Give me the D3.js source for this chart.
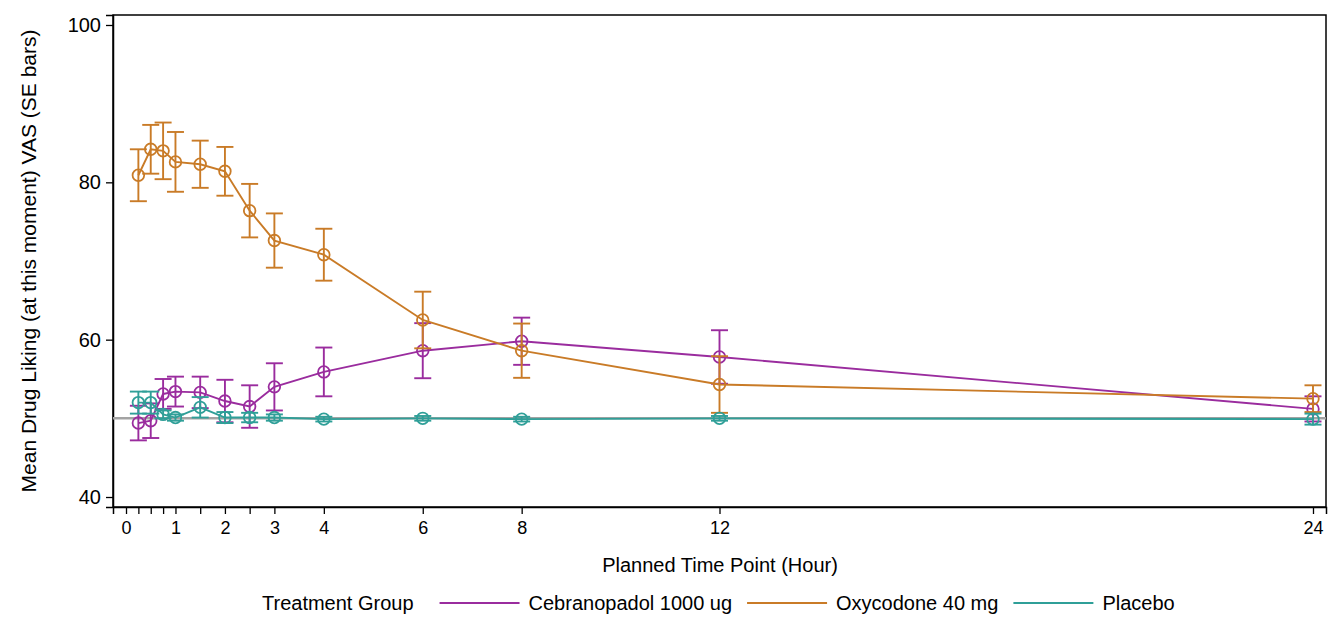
<!DOCTYPE html>
<html>
<head>
<meta charset="utf-8">
<script src="https://cdn.jsdelivr.net/npm/d3@7"></script>
<style>
  body { margin: 0; background: #fff; }
  svg { font-family: "Liberation Sans", Arial, sans-serif; }
</style>
</head>
<body>
<svg id="chart" width="1344" height="630"></svg>
<script>
// ---- Data ----
const timePoints = [0.25, 0.5, 0.75, 1, 1.5, 2, 2.5, 3, 4, 6, 8, 12, 24];
const groups = ["Cebranopadol 1000 ug", "Oxycodone 40 mg", "Placebo"];
const cebMean = [49.4, 49.7, 53.1, 53.4, 53.3, 52.2, 51.5, 54.0, 55.9, 58.6, 59.8, 57.8, 51.2];
const cebSE   = [2.2, 2.2, 1.9, 1.9, 2.0, 2.7, 2.7, 3.0, 3.1, 3.5, 3.0, 3.4, 1.6];
const oxyMean = [80.9, 84.2, 84.0, 82.6, 82.3, 81.4, 76.4, 72.6, 70.8, 62.5, 58.6, 54.3, 52.5];
const oxySE   = [3.3, 3.1, 3.6, 3.8, 3.0, 3.1, 3.4, 3.45, 3.3, 3.6, 3.45, 3.6, 1.7];
const plaMean = [52.0, 52.0, 50.5, 50.1, 51.4, 50.1, 50.1, 50.1, 49.9, 50.0, 49.9, 50.0, 49.9];
const plaSE   = [1.4, 1.4, 0.5, 0.4, 1.3, 0.7, 0.6, 0.4, 0.3, 0.3, 0.3, 0.3, 0.7];
const xTicks = [0, 0.25, 0.5, 0.75, 1, 1.5, 2, 2.5, 3, 4, 6, 8, 12, 24];
const xTickLabels = [0, 1, 2, 3, 4, 6, 8, 12, 24];
const yTicks = [40, 60, 80, 100];
const refValue = 50;
const colors = ["#9A2C9E", "#C97B27", "#2F9F98"];

const seriesMeans = [cebMean, oxyMean, plaMean];
const seriesSE = [cebSE, oxySE, plaSE];

// ---- Layout ----
const svg = d3.select("#chart");
const L = 113, R = 1326, T = 15, B = 507;

const x = d3.scaleLinear().domain([-0.263, 24.263]).range([L, R]);
const y = d3.scaleLinear().domain([38.73, 101.27]).range([B, T]);

// Frame
svg.append("rect").attr("x", L).attr("y", T).attr("width", R - L).attr("height", B - T)
  .attr("fill", "none").attr("stroke", "#000").attr("stroke-width", 1.5);

// Y axis
const yAxis = d3.axisLeft(y).tickValues(yTicks).tickSize(7).tickPadding(5).tickFormat(d3.format("d"));
const gy = svg.append("g").attr("transform", `translate(${L},0)`).call(yAxis);
gy.select(".domain").attr("stroke-width", 1.5);
gy.selectAll(".tick line").attr("stroke-width", 1.3);
gy.selectAll("text").attr("font-size", 20).attr("font-family", "Liberation Sans, Arial, sans-serif").attr("fill", "#000");

// X axis
const xAxis = d3.axisBottom(x).tickValues(xTicks).tickSize(7).tickPadding(7)
  .tickFormat(d => xTickLabels.includes(d) ? d3.format("d")(d) : "");
const gx = svg.append("g").attr("transform", `translate(0,${B})`).call(xAxis);
gx.select(".domain").attr("stroke-width", 1.5);
gx.selectAll(".tick line").attr("stroke-width", 1.3);
gx.selectAll("text").attr("font-size", 18).attr("font-family", "Liberation Sans, Arial, sans-serif").attr("fill", "#000");

// Axis titles
svg.append("text").attr("x", 720).attr("y", 572).attr("text-anchor", "middle")
  .attr("font-size", 20).text("Planned Time Point (Hour)");
svg.append("text").attr("transform", `translate(36,${(T + B) / 2}) rotate(-90)`)
  .attr("text-anchor", "middle").attr("font-size", 21)
  .text("Mean Drug Liking (at this moment) VAS (SE bars)");

// Reference line
svg.append("line").attr("x1", L).attr("x2", R).attr("y1", y(refValue)).attr("y2", y(refValue))
  .attr("stroke", "#a3a3a3").attr("stroke-width", 2.5);

// Series
const plot = svg.append("g");
groups.forEach((g, i) => {
  const data = timePoints.map((t, k) => ({ t, m: seriesMeans[i][k], se: seriesSE[i][k] }));
  const c = colors[i];
  const grp = plot.append("g");
  grp.append("path").datum(data)
    .attr("d", d3.line().x(d => x(d.t)).y(d => y(d.m)))
    .attr("fill", "none").attr("stroke", c).attr("stroke-width", 1.9);
  const eb = grp.selectAll(".eb").data(data).enter().append("g");
  eb.append("line").attr("x1", d => x(d.t)).attr("x2", d => x(d.t))
    .attr("y1", d => y(d.m - d.se)).attr("y2", d => y(d.m + d.se))
    .attr("stroke", c).attr("stroke-width", 1.9);
  [-1, 1].forEach(s => {
    eb.append("line").attr("x1", d => x(d.t) - 8.5).attr("x2", d => x(d.t) + 8.5)
      .attr("y1", d => y(d.m + s * d.se)).attr("y2", d => y(d.m + s * d.se))
      .attr("stroke", c).attr("stroke-width", 1.9);
  });
  grp.selectAll(".mk").data(data).enter().append("circle")
    .attr("cx", d => x(d.t)).attr("cy", d => y(d.m)).attr("r", 5.8)
    .attr("fill", "none").attr("stroke", c).attr("stroke-width", 1.8);
});

// Legend
const legY = 603;
const leg = svg.append("g").attr("font-size", 20);
let cx = 262;
const title = leg.append("text").attr("x", cx).attr("y", legY + 7).text("Treatment Group");
cx += title.node().getComputedTextLength() + 26;
groups.forEach((g, i) => {
  leg.append("line").attr("x1", cx).attr("x2", cx + 80).attr("y1", legY).attr("y2", legY)
    .attr("stroke", colors[i]).attr("stroke-width", 2.2);
  cx += 89;
  const t = leg.append("text").attr("x", cx).attr("y", legY + 7).text(g);
  cx += t.node().getComputedTextLength() + 15;
});
</script>
</body>
</html>
